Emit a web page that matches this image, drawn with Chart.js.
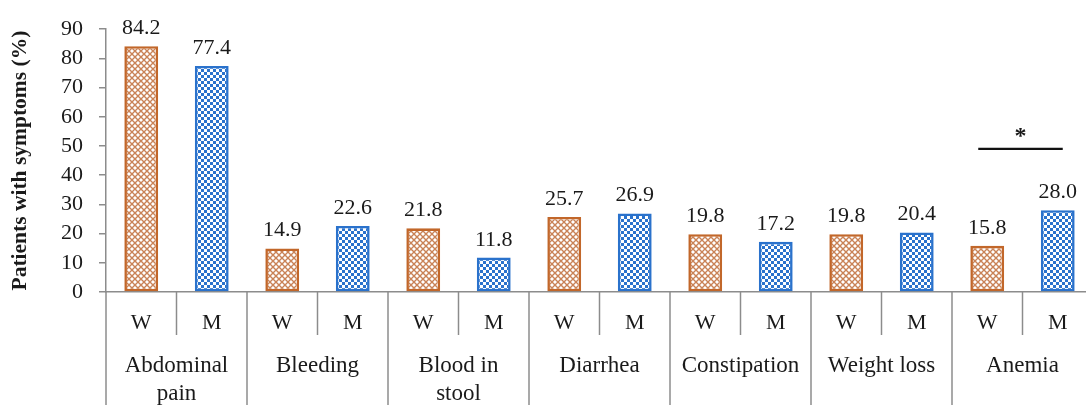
<!DOCTYPE html>
<html>
<head>
<meta charset="utf-8">
<script src="https://cdn.jsdelivr.net/npm/chart.js@4/dist/chart.umd.min.js"></script>
<style>
  html, body { margin: 0; padding: 0; background: #fff; overflow: hidden; }
  #wrap { width: 1094px; height: 405px; }
</style>
</head>
<body>
<div id="wrap"><canvas id="c" width="1094" height="405"></canvas></div>
<script>
// Symptom categories (multi-line where the label wraps)
const categories = [['Abdominal', 'pain'], 'Bleeding', ['Blood in', 'stool'], 'Diarrhea', 'Constipation', 'Weight loss', 'Anemia'];
const groupLabels = ['W', 'M'];
// Percent of patients reporting each symptom
const women = [84.2, 14.9, 21.8, 25.7, 19.8, 19.8, 15.8];
const men = [77.4, 22.6, 11.8, 26.9, 17.2, 20.4, 28.0];
// Significant difference marker: category index and bracket height
const significance = [{ index: 6, level: 49, mark: '*' }];

const SERIF = '"Liberation Serif", "Times New Roman", serif';
const AXIS_GRAY = '#8c8c8c';
const TEXT = '#1a1a1a';

function crossHatch() {
  const t = document.createElement('canvas');
  t.width = 6; t.height = 6;
  const g = t.getContext('2d');
  g.fillStyle = '#fff';
  g.fillRect(0, 0, 6, 6);
  g.strokeStyle = '#c98256';
  g.lineWidth = 1.4;
  g.beginPath();
  g.moveTo(-1, -1); g.lineTo(7, 7);
  g.moveTo(7, -1); g.lineTo(-1, 7);
  g.stroke();
  return g.createPattern(t, 'repeat');
}

function checker() {
  const t = document.createElement('canvas');
  t.width = 6; t.height = 6;
  const g = t.getContext('2d');
  g.fillStyle = '#fff';
  g.fillRect(0, 0, 6, 6);
  g.fillStyle = '#2a72cc';
  g.fillRect(0, 0, 3, 3);
  g.fillRect(3, 3, 3, 3);
  return g.createPattern(t, 'repeat');
}

const valueLabels = {
  id: 'valueLabels',
  afterDatasetsDraw(chart) {
    const ctx = chart.ctx;
    ctx.save();
    ctx.font = '22px ' + SERIF;
    ctx.fillStyle = TEXT;
    ctx.textAlign = 'center';
    ctx.textBaseline = 'alphabetic';
    chart.data.datasets.forEach((ds, di) => {
      const meta = chart.getDatasetMeta(di);
      meta.data.forEach((bar, i) => {
        ctx.fillText(ds.data[i].toFixed(1), bar.x, bar.y - 12);
      });
    });
    ctx.restore();
  }
};

const groupedAxis = {
  id: 'groupedAxis',
  afterDraw(chart) {
    const ctx = chart.ctx;
    const x = chart.scales.x;
    const area = chart.chartArea;
    const base = area.bottom;
    const step = x.getPixelForValue(1) - x.getPixelForValue(0);
    const m0 = chart.getDatasetMeta(0), m1 = chart.getDatasetMeta(1);
    ctx.save();
    ctx.strokeStyle = AXIS_GRAY;
    ctx.lineWidth = 1.5;
    ctx.fillStyle = TEXT;
    ctx.textAlign = 'center';
    ctx.textBaseline = 'middle';
    categories.forEach((cat, i) => {
      const cx = x.getPixelForValue(i);
      const left = cx - step / 2;
      // category boundary
      ctx.beginPath();
      ctx.moveTo(left, base);
      ctx.lineTo(left, chart.height);
      ctx.stroke();
      // W/M divider
      ctx.beginPath();
      ctx.moveTo(cx, base);
      ctx.lineTo(cx, base + 43);
      ctx.stroke();
      ctx.font = '22px ' + SERIF;
      ctx.fillText(groupLabels[0], m0.data[i].x, base + 31);
      ctx.fillText(groupLabels[1], m1.data[i].x, base + 31);
      ctx.font = '23px ' + SERIF;
      const lines = Array.isArray(cat) ? cat : [cat];
      lines.forEach((ln, k) => ctx.fillText(ln, cx, base + 74 + k * 28));
    });
    const lastRight = x.getPixelForValue(categories.length - 1) + step / 2;
    ctx.beginPath();
    ctx.moveTo(lastRight, base);
    ctx.lineTo(lastRight, chart.height);
    ctx.stroke();

    // significance bracket
    const y = chart.scales.y;
    significance.forEach(s => {
      const yy = y.getPixelForValue(s.level);
      const x0 = m0.data[s.index].x - 9;
      const x1 = m1.data[s.index].x + 5;
      ctx.strokeStyle = '#111';
      ctx.lineWidth = 2.4;
      ctx.beginPath();
      ctx.moveTo(x0, yy);
      ctx.lineTo(x1, yy);
      ctx.stroke();
      ctx.font = 'bold 24px ' + SERIF;
      ctx.fillStyle = TEXT;
      ctx.fillText(s.mark, (x0 + x1) / 2, yy - 12);
    });
    ctx.restore();
  }
};

new Chart(document.getElementById('c'), {
  type: 'bar',
  data: {
    labels: categories,
    datasets: [
      { label: 'W', data: women, backgroundColor: crossHatch(), borderColor: '#c2672a', borderWidth: 2.6, borderSkipped: false },
      { label: 'M', data: men, backgroundColor: checker(), borderColor: '#2a72cc', borderWidth: 2.6, borderSkipped: false }
    ]
  },
  options: {
    responsive: false,
    animation: false,
    layout: { padding: { top: 29, right: 1, left: 0, bottom: 0 } },
    datasets: { bar: { categoryPercentage: 1.0, barPercentage: 0.48 } },
    plugins: { legend: { display: false }, tooltip: { enabled: false } },
    scales: {
      x: {
        grid: { display: false },
        ticks: { display: false },
        border: { display: true, color: AXIS_GRAY, width: 1.5 },
        afterFit(s) { s.height = 113; }
      },
      y: {
        min: 0, max: 90,
        ticks: { stepSize: 10, autoSkip: false, color: TEXT, font: { family: SERIF, size: 22 }, padding: 16 },
        grid: { drawOnChartArea: false, drawTicks: true, tickLength: 7, color: AXIS_GRAY, lineWidth: 1.5 },
        border: { display: true, color: AXIS_GRAY, width: 1.5 },
        title: { display: true, text: 'Patients with symptoms (%)', color: TEXT, font: { family: SERIF, size: 21.5, weight: 'bold' }, padding: { top: 8, bottom: 0 } },
        afterFit(s) { s.width = 106; }
      }
    }
  },
  plugins: [valueLabels, groupedAxis]
});
</script>
</body>
</html>
